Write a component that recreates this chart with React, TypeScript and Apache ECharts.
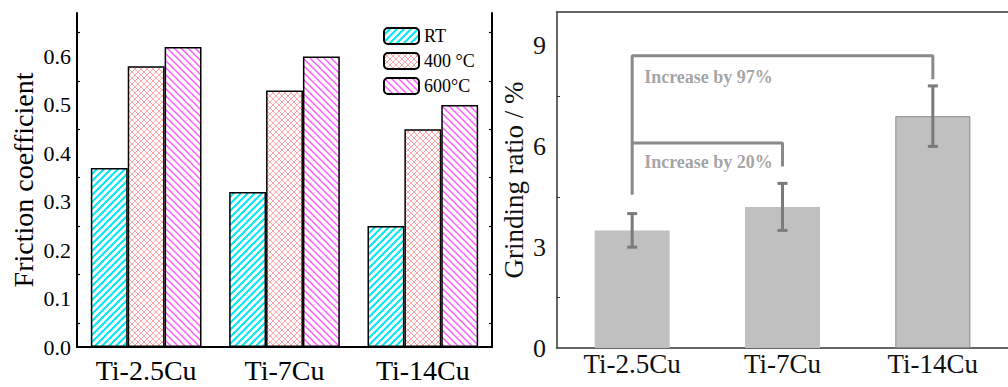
import React, { useEffect, useRef } from "react";
import * as echarts from "echarts";

const categories = ["Ti-2.5Cu", "Ti-7Cu", "Ti-14Cu"];
const legendNames = ["RT", "400 °C", "600°C"];
const frictionRT = [0.37, 0.32, 0.25];
const friction400 = [0.58, 0.53, 0.45];
const friction600 = [0.62, 0.6, 0.5];
const grindingRatio = [3.5, 4.2, 6.9];
const grindingLow = [3.0, 3.5, 6.0];
const grindingHigh = [4.0, 4.9, 7.8];
const bracket97 = [[0, 4.56], [0, 8.7], [2, 8.7], [2, 8.0]];
const bracket20 = [[0, 6.1], [1, 6.1], [1, 5.4]];
const annotations = [
  { name: "Increase by 97%", value: [0, 8.07] },
  { name: "Increase by 20%", value: [0, 5.54] },
];

const SERIF = "Liberation Serif";

function makePattern(kind: string) {
  const c = document.createElement("canvas");
  const s = kind === "cross" ? 6 : 7;
  c.width = s;
  c.height = s;
  const ctx = c.getContext("2d")!;
  ctx.fillStyle = "#ffffff";
  ctx.fillRect(0, 0, s, s);
  const fwd = () => {
    ctx.beginPath();
    ctx.moveTo(-1, s + 1);
    ctx.lineTo(s + 1, -1);
    ctx.moveTo(-2, 2);
    ctx.lineTo(2, -2);
    ctx.moveTo(s - 2, s + 2);
    ctx.lineTo(s + 2, s - 2);
    ctx.stroke();
  };
  const back = () => {
    ctx.beginPath();
    ctx.moveTo(-1, -1);
    ctx.lineTo(s + 1, s + 1);
    ctx.moveTo(s - 2, -2);
    ctx.lineTo(s + 2, 2);
    ctx.moveTo(-2, s - 2);
    ctx.lineTo(2, s + 2);
    ctx.stroke();
  };
  if (kind === "fwd") {
    ctx.strokeStyle = "#00e8f2";
    ctx.lineWidth = 2;
    fwd();
  } else if (kind === "back") {
    ctx.strokeStyle = "#ff5cff";
    ctx.lineWidth = 1.5;
    back();
  } else {
    ctx.strokeStyle = "#ff8f8f";
    ctx.lineWidth = 0.8;
    fwd();
    back();
  }
  return { image: c, repeat: "repeat" } as any;
}

export default function App() {
  const ref = useRef<HTMLDivElement>(null);
  useEffect(() => {
    if (!ref.current) return;
    const chart = echarts.init(ref.current, undefined, { renderer: "svg" });
    const black = "#000";
    const gray = "#333";
    const pats = [makePattern("fwd"), makePattern("cross"), makePattern("back")];
    const fVals = [frictionRT, friction400, friction600];

    const option: any = {
      animation: false,
      backgroundColor: "#fff",
      textStyle: { fontFamily: SERIF },
      grid: [
        { left: 77, top: 13, width: 415, height: 334 },
        { left: 557, top: 12, width: 459, height: 336 },
      ],
      legend: {
        orient: "vertical",
        left: 383,
        top: 27,
        padding: 0,
        itemWidth: 35,
        itemHeight: 16,
        itemGap: 7,
        data: legendNames,
        textStyle: { fontSize: 18, color: "#000", fontFamily: SERIF },
      },
      xAxis: [
        {
          gridIndex: 0,
          type: "category",
          data: categories,
          position: "bottom",
          axisLine: { lineStyle: { color: black, width: 2 } },
          axisTick: { inside: true, alignWithLabel: true, length: 5, lineStyle: { color: black, width: 1.5 } },
          axisLabel: { fontSize: 28, color: "#000", margin: 9, fontFamily: SERIF },
        },
        {
          gridIndex: 0,
          type: "category",
          data: categories,
          position: "top",
          axisLine: { lineStyle: { color: black, width: 2 } },
          axisTick: { inside: true, alignWithLabel: true, length: 5, lineStyle: { color: black, width: 1.5 } },
          axisLabel: { show: false },
        },
        {
          gridIndex: 1,
          type: "category",
          data: categories,
          position: "bottom",
          axisLine: { lineStyle: { color: gray, width: 1.5 } },
          axisTick: { inside: true, length: 6, lineStyle: { color: gray, width: 1.2 } },
          axisLabel: { fontSize: 27, color: "#111", margin: 2, fontFamily: SERIF },
        },
        {
          gridIndex: 1,
          type: "category",
          data: categories,
          position: "bottom",
          axisLine: { show: false },
          axisTick: { inside: true, alignWithLabel: true, length: 6, lineStyle: { color: gray, width: 1.2 } },
          axisLabel: { show: false },
        },
        {
          gridIndex: 1,
          type: "category",
          data: categories,
          position: "top",
          axisLine: { lineStyle: { color: gray, width: 1.5 } },
          axisTick: { inside: true, length: 6, lineStyle: { color: gray, width: 1.2 } },
          axisLabel: { show: false },
        },
        {
          gridIndex: 1,
          type: "category",
          data: categories,
          position: "top",
          axisLine: { show: false },
          axisTick: { inside: true, alignWithLabel: true, length: 6, lineStyle: { color: gray, width: 1.2 } },
          axisLabel: { show: false },
        },
      ],
      yAxis: [
        {
          gridIndex: 0,
          type: "value",
          position: "left",
          min: 0,
          max: 0.69,
          interval: 0.1,
          name: "Friction coefficient",
          nameLocation: "middle",
          nameGap: 40,
          nameTextStyle: { fontSize: 28, color: "#000", fontFamily: SERIF },
          axisLine: { show: true, lineStyle: { color: black, width: 2 } },
          axisTick: { inside: true, length: 6, lineStyle: { color: black, width: 1.5 } },
          minorTick: { show: true, splitNumber: 2, length: 3, lineStyle: { color: black, width: 1.2 } },
          splitLine: { show: false },
          axisLabel: {
            fontSize: 22,
            color: "#000",
            margin: 6,
            fontFamily: SERIF,
            showMaxLabel: false,
            formatter: (v: number) => v.toFixed(1),
          },
        },
        {
          gridIndex: 0,
          type: "value",
          position: "right",
          min: 0,
          max: 0.69,
          interval: 0.1,
          axisLine: { show: true, lineStyle: { color: black, width: 2 } },
          axisTick: { inside: true, length: 6, lineStyle: { color: black, width: 1.5 } },
          minorTick: { show: true, splitNumber: 2, length: 3, lineStyle: { color: black, width: 1.2 } },
          splitLine: { show: false },
          axisLabel: { show: false },
        },
        {
          gridIndex: 1,
          type: "value",
          position: "left",
          min: 0,
          max: 10,
          interval: 3,
          name: "Grinding ratio / %",
          nameLocation: "middle",
          nameGap: 30,
          nameTextStyle: { fontSize: 27, color: "#111", fontFamily: SERIF },
          axisLine: { show: true, lineStyle: { color: gray, width: 1.5 } },
          axisTick: { inside: true, length: 6, lineStyle: { color: gray, width: 1.2 } },
          minorTick: { show: true, splitNumber: 2, length: 3, lineStyle: { color: gray, width: 1 } },
          splitLine: { show: false },
          axisLabel: { fontSize: 26, color: "#111", margin: 11, fontFamily: SERIF, showMaxLabel: false },
        },
      ],
      series: [
        ...legendNames.map((n, i) => ({
          name: n,
          type: "bar",
          xAxisIndex: 0,
          yAxisIndex: 0,
          barGap: "0%",
          barCategoryGap: "20%",
          data: fVals[i],
          itemStyle: { color: pats[i], borderColor: "#000", borderWidth: 1.5 },
        })),
        {
          name: "grinding",
          type: "bar",
          xAxisIndex: 2,
          yAxisIndex: 2,
          barWidth: 75,
          data: grindingRatio.map((v, i) => ({
            value: v,
            itemStyle:
              i === 2
                ? { color: "#c0c0c0", borderColor: "#8a8a8a", borderWidth: 1 }
                : { color: "#c0c0c0" },
          })),
        },
        {
          name: "errors",
          type: "custom",
          xAxisIndex: 2,
          yAxisIndex: 2,
          data: grindingLow.map((lo, i) => [i, lo, grindingHigh[i]]),
          encode: { x: 0, y: [1, 2] },
          z: 5,
          renderItem: (params: any, api: any) => {
            const x = api.value(0);
            const lo = api.coord([x, api.value(1)]);
            const hi = api.coord([x, api.value(2)]);
            const w = 5;
            const st = { stroke: "#7a7a7a", lineWidth: 3 };
            return {
              type: "group",
              children: [
                { type: "line", shape: { x1: lo[0], y1: lo[1], x2: hi[0], y2: hi[1] }, style: st },
                { type: "line", shape: { x1: lo[0] - w, y1: lo[1], x2: lo[0] + w, y2: lo[1] }, style: st },
                { type: "line", shape: { x1: hi[0] - w, y1: hi[1], x2: hi[0] + w, y2: hi[1] }, style: st },
              ],
            };
          },
        },
        {
          name: "bracket97",
          type: "line",
          xAxisIndex: 2,
          yAxisIndex: 2,
          data: bracket97,
          symbol: "none",
          lineStyle: { color: "#8a8a8a", width: 3 },
          z: 4,
        },
        {
          name: "bracket20",
          type: "line",
          xAxisIndex: 2,
          yAxisIndex: 2,
          data: bracket20,
          symbol: "none",
          lineStyle: { color: "#8a8a8a", width: 3 },
          z: 4,
        },
        {
          name: "annotations",
          type: "scatter",
          xAxisIndex: 2,
          yAxisIndex: 2,
          symbolSize: 0,
          data: annotations,
          label: {
            show: true,
            position: "right",
            distance: 12,
            formatter: "{b}",
            color: "#8c8c8c",
            fontSize: 18,
            fontWeight: "bold",
            fontFamily: SERIF,
          },
        },
      ],
    };
    chart.setOption(option);
    return () => chart.dispose();
  }, []);
  return (
    <div
      ref={ref}
      style={{ position: "fixed", left: 0, top: 0, width: 1008, height: 387, background: "#fff" }}
    />
  );
}
